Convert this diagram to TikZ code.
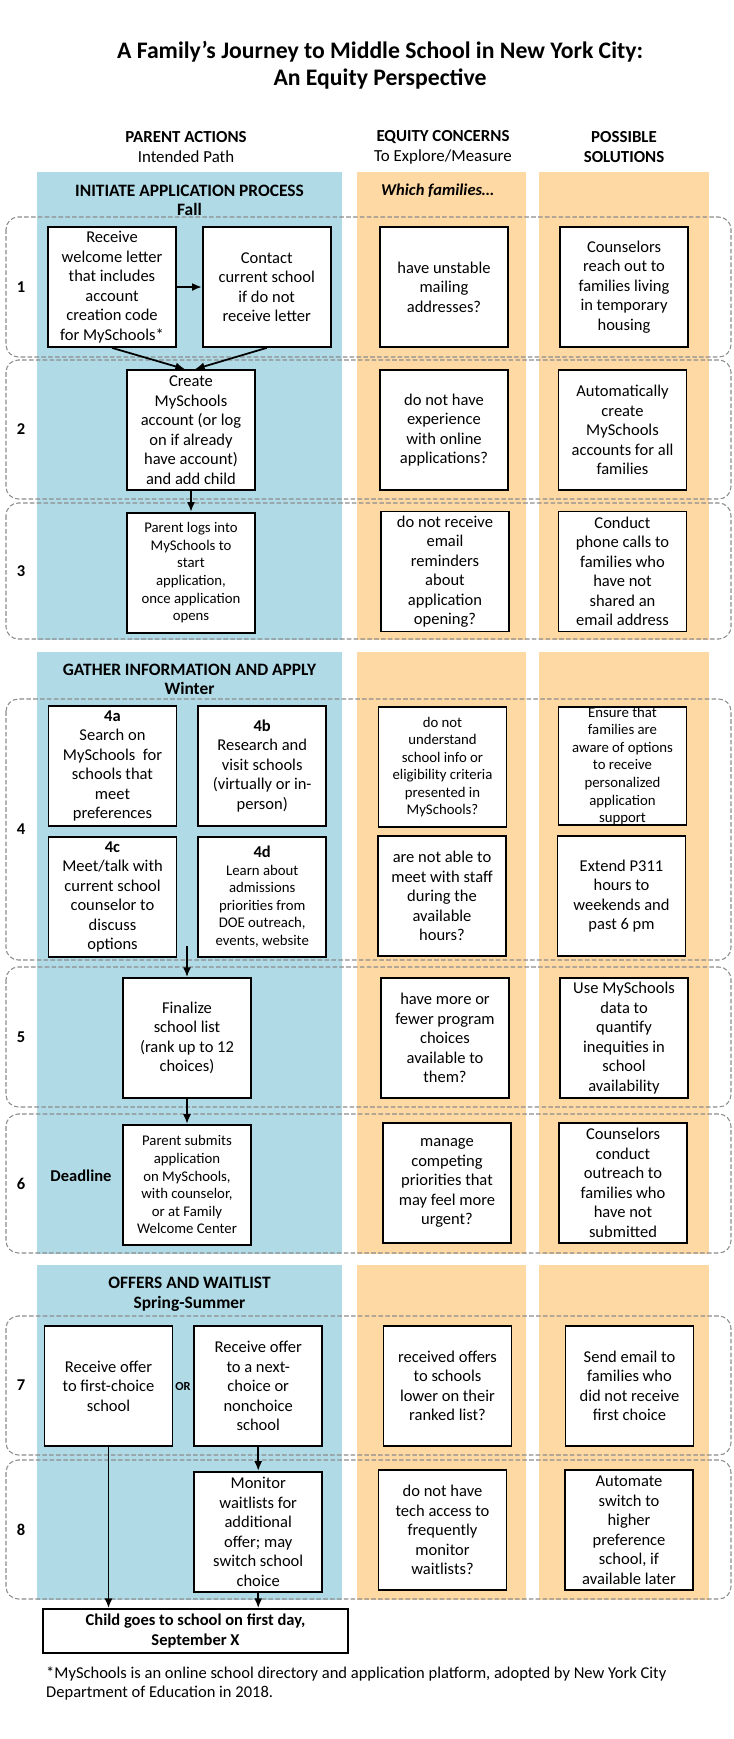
\documentclass[tikz,border=0pt]{standalone}
\usepackage{fontspec}
\setmainfont{Carlito}
\usetikzlibrary{arrows.meta, positioning}
\definecolor{pathBlue}{HTML}{B0DAE6}
\definecolor{equPeach}{HTML}{FFD9A3}
\definecolor{rowGrey}{HTML}{8C8C8C}
\newcommand{\boxfont}{\fontsize{9.4}{11.1}\selectfont}
\newcommand{\tightfont}{\fontsize{8.4}{10}\selectfont}

\begin{document}
\begin{tikzpicture}[x=0.02cm, y=-0.02cm, font=\boxfont,
        act/.style={draw, line width=1pt, fill=white, align=center, minimum width=2.56cm, minimum height=2.4cm, inner sep=1pt},
        tight/.style={font=\tightfont},
        colhead/.style={font=\fontsize{9.6}{11.4}\selectfont, align=center},
        phase/.style={font=\fontsize{9.9}{11.1}\selectfont\bfseries, align=center},
        rownum/.style={font=\boxfont\bfseries},
        band/.style={draw=rowGrey, dash pattern=on 2.6pt off 1.3pt, line width=0.6pt, rounded corners=7pt},
        arr/.style={-{Latex[length=5.5pt, width=4.5pt]}, line width=1pt}]
  \useasboundingbox (0,0) rectangle (734,1739);
  % columns
  \foreach \top/\bot in {172/640, 652/1254, 1265/1600} {
    \fill[pathBlue] (37,\top) rectangle (342,\bot);
    \fill[equPeach] (357,\top) rectangle (526,\bot);
    \fill[equPeach] (539,\top) rectangle (709,\bot);
  }
  % rows
  \foreach \n/\top/\bot in {1/217/357, 2/360/499, 3/503/639, 4/699/960, 5/967/1107, 6/1114/1253, 7/1316/1455, 8/1460/1599} {
    \draw[band] (6,\top) rectangle (731,\bot);
    \node[rownum] (n\n) at (21,{(\top+\bot)/2}) {\n};
  }

  \node[font=\fontsize{13.5}{15.4}\selectfont\bfseries, align=center] (title) at (380,65.5) {A Family’s Journey to Middle School in New York City:\\An Equity Perspective};
  \node[colhead] (hpar) at (186,147) {\textbf{PARENT ACTIONS}\\Intended Path};
  \node[colhead] (hequ) at (443,147) {\textbf{EQUITY CONCERNS}\\To Explore/Measure};
  \node[colhead, font=\fontsize{9.6}{11.4}\selectfont\bfseries] (hsol) at (624,147) {POSSIBLE\\SOLUTIONS};

  \node[phase] (ph1) at (189.5,200.5) {INITIATE APPLICATION PROCESS\\Fall};
  \node[font=\boxfont\bfseries\itshape, anchor=west] (which) at (375,191) {Which families\ldots};
  \node[phase] (ph2) at (189.5,679.5) {GATHER INFORMATION AND APPLY\\Winter};
  \node[phase] (ph3) at (189.5,1294) {OFFERS AND WAITLIST\\Spring-Summer};

  % parent actions
  \node[act] (b1a) at (112,287) {Receive\\welcome letter\\that includes\\account\\creation code\\for MySchools*};
  \node[act, right=0.5cm of b1a] (b1b) {Contact\\current school\\if do not\\receive letter};
  \node[act] (b2) at (191,430) {Create\\MySchools\\account (or log\\on if already\\have account)\\and add child};
  \node[act, tight, below=0.42cm of b2] (b3) {Parent logs into\\MySchools to\\start\\application,\\once application\\opens};
  \node[act] (b4a) at (112.5,766) {\textbf{4a}\\Search on\\MySchools\ \ for\\schools that\\meet\\preferences};
  \node[act, right=0.4cm of b4a] (b4b) {\textbf{4b}\\Research and\\visit schools\\(virtually or in-\\person)};
  \node[act, below=0.18cm of b4a] (b4c) {\textbf{4c}\\Meet/talk with\\current school\\counselor to\\discuss\\options};
  \node[act, tight, below=0.18cm of b4b] (b4d) {{\boxfont\bfseries 4d}\\Learn about\\admissions\\priorities from\\DOE outreach,\\events, website};
  \coordinate (g4) at (187,946);
  \node[act] (b5) at (187,1038) {Finalize\\school list\\(rank up to 12\\choices)};
  \node[act, tight, below=0.5cm of b5] (b6) {Parent submits\\application\\on MySchools,\\with counselor,\\or at Family\\Welcome Center};
  \node[font=\boxfont\bfseries] (dl) at (81,1176) {Deadline};
  \node[act] (b7a) at (108.5,1386) {Receive offer\\to first-choice\\school};
  \node[act, right=0.4cm of b7a] (b7b) {Receive offer\\to a next-\\choice or\\nonchoice\\school};
  \node[font=\fontsize{7}{8}\selectfont\bfseries] (or) at (183,1386) {OR};
  \node[act, below=0.48cm of b7b] (b8) {Monitor\\waitlists for\\additional\\offer; may\\switch school\\choice};
  \node[draw, line width=1pt, fill=white, align=center, minimum width=6.1cm, minimum height=0.88cm, inner sep=1pt, font=\boxfont\bfseries] (fin) at (195.5,1631) {Child goes to school on first day,\\September X};

  % equity concerns
  \node[act] (c1) at (444,287) {have unstable\\mailing\\addresses?};
  \node[act] (c2) at (444,430) {do not have\\experience\\with online\\applications?};
  \node[act] (c3) at (445,571.5) {do not receive\\email\\reminders\\about\\application\\opening?};
  \node[act, tight] (c4a) at (442.5,767) {do not\\understand\\school info or\\eligibility criteria\\presented in\\MySchools?};
  \node[act] (c4b) at (442,896) {are not able to\\meet with staff\\during the\\available\\hours?};
  \node[act] (c5) at (445,1038) {have more or\\fewer program\\choices\\available to\\them?};
  \node[act] (c6) at (447,1183) {manage\\competing\\priorities that\\may feel more\\urgent?};
  \node[act] (c7) at (447.5,1386) {received offers\\to schools\\lower on their\\ranked list?};
  \node[act] (c8) at (442.5,1530) {do not have\\tech access to\\frequently\\monitor\\waitlists?};

  % possible solutions
  \node[act] (s1) at (624,287) {Counselors\\reach out to\\families living\\in temporary\\housing};
  \node[act] (s2) at (622.5,430) {Automatically\\create\\MySchools\\accounts for all\\families};
  \node[act] (s3) at (622.5,571.5) {Conduct\\phone calls to\\families who\\have not\\shared an\\email address};
  \node[act, tight, inner ysep=-2pt, minimum height=2.36cm] (s4a) at (622.5,766) {Ensure that\\families are\\aware of options\\to receive\\personalized\\application\\support};
  \node[act] (s4b) at (621.5,896) {Extend P311\\hours to\\weekends and\\past 6 pm};
  \node[act] (s5) at (624,1038) {Use MySchools\\data to\\quantify\\inequities in\\school\\availability};
  \node[act] (s6) at (623,1183) {Counselors\\conduct\\outreach to\\families who\\have not\\submitted};
  \node[act] (s7) at (629.5,1386) {Send email to\\families who\\did not receive\\first choice};
  \node[act] (s8) at (629,1530) {Automate\\switch to\\higher\\preference\\school, if\\available later};

  \node[anchor=west, align=left] (note) at (40,1683.5) {*MySchools is an online school directory and application platform, adopted by New York City\\Department of Education in 2018.};

  \draw[arr] (b1a) -- (b1b);
  \draw[arr] (b1a.south) -- ([xshift=-0.12cm]b2.north);
  \draw[arr] (b1b.south) -- ([xshift=0.08cm]b2.north);
  \draw[arr] (b2) -- (b3);
  \draw[arr] (g4) -- (b5);
  \draw[arr] (b5) -- (b6);
  \draw[arr] (b7b) -- (b8);
  \draw[arr] (b7a.south) -- (b7a.south |- fin.north);
  \draw[arr] (b8.south) -- (b8.south |- fin.north);
\end{tikzpicture}
\end{document}
